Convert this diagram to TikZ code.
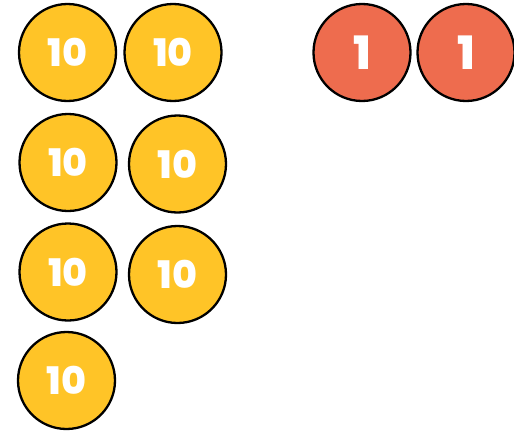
\documentclass[tikz,border=0pt]{standalone}
\usepackage{fontspec}
\setmainfont{Poppins}[BoldFont={Poppins ExtraBold}]
\definecolor{coinyellow}{HTML}{FFC427}
\definecolor{coinred}{HTML}{EE6C4E}
\begin{document}
\begin{tikzpicture}[x=1pt,y=-1pt,
  coin/.style={circle,draw=black,line width=2.3pt,minimum size=97pt,inner sep=0pt,
    text=white,font=\fontsize{38}{38}\selectfont\bfseries},
  ten/.style={coin,fill=coinyellow},
  one/.style={coin,fill=coinred,font=\fontsize{46}{46}\selectfont\bfseries}]
\useasboundingbox (0,0) rectangle (514,431);
\node[ten] (t1) at (67.5,52.5) {10};
\node[ten] (t2) at (173,52.5) {10};
\node[ten] (t3) at (68,162.5) {10};
\node[ten] (t4) at (177.5,164) {10};
\node[ten] (t5) at (68,272) {10};
\node[ten] (t6) at (177.5,274.5) {10};
\node[ten] (t7) at (66.5,380.5) {10};
\node[one] (o1) at (362,52.5) {1};
\node[one] (o2) at (466,52.5) {1};
\end{tikzpicture}
\end{document}
